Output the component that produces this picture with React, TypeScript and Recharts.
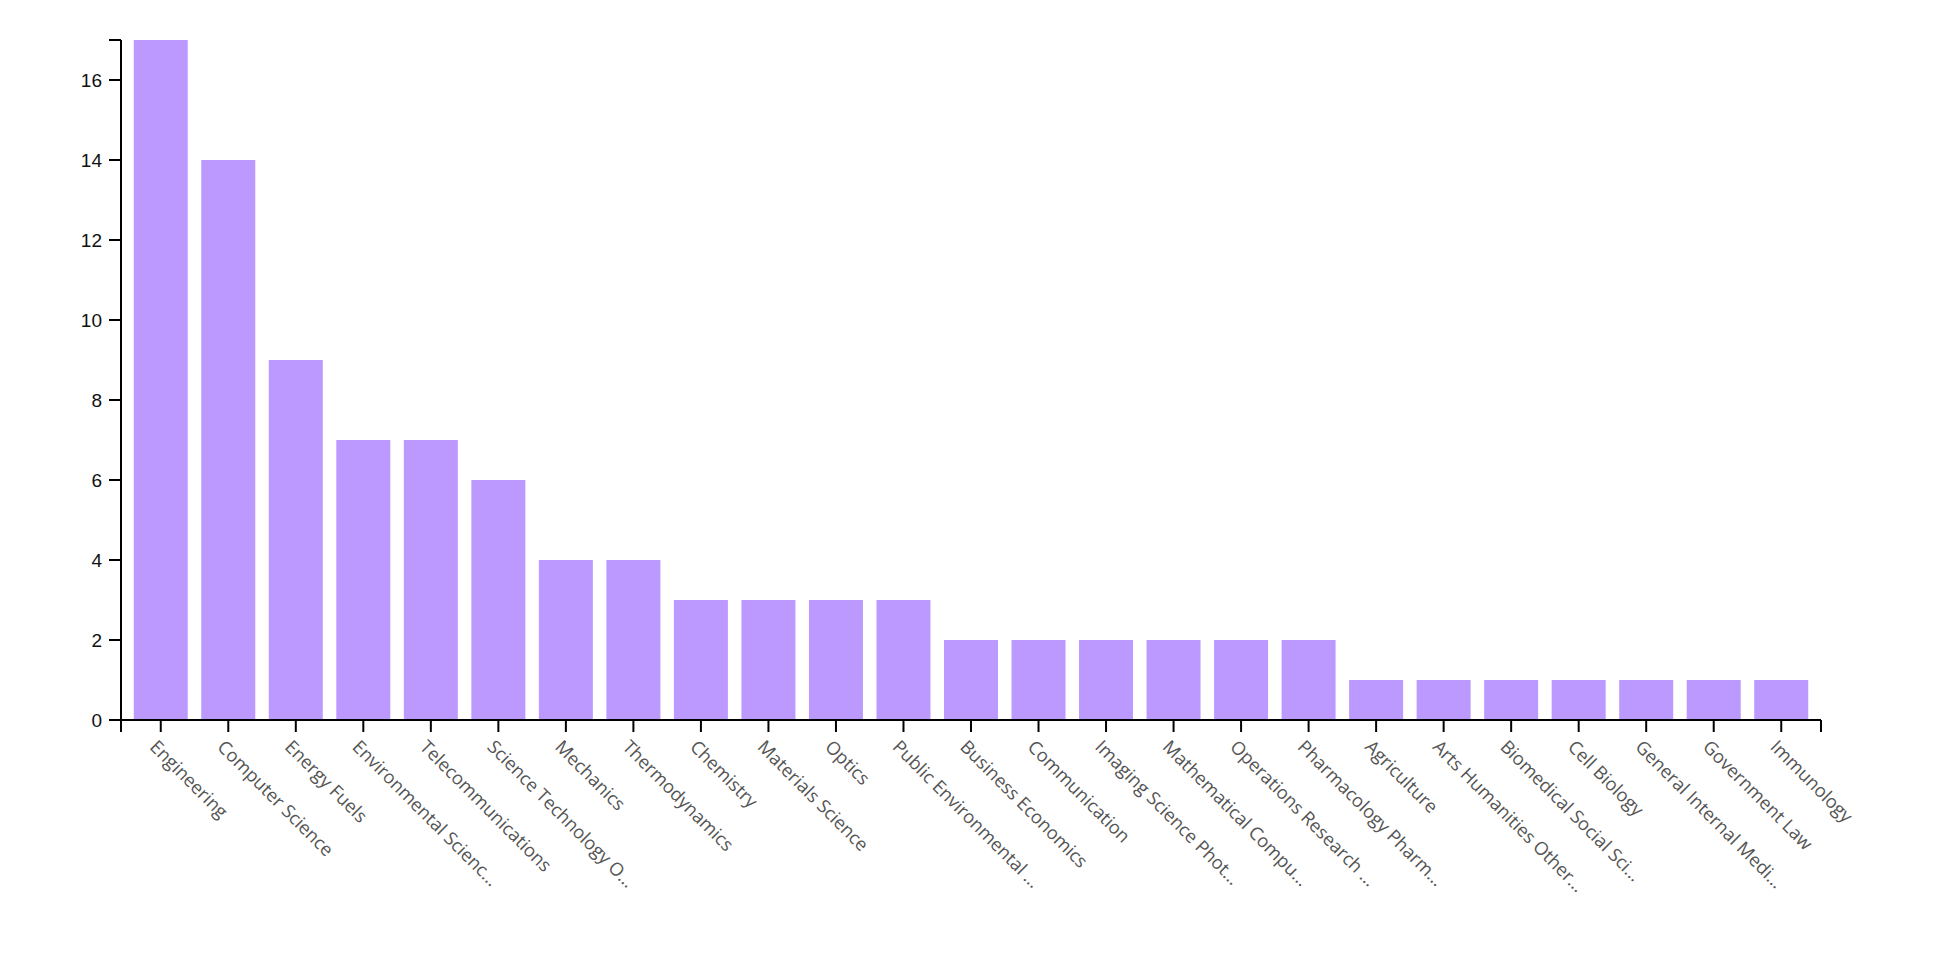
import React from 'react';
import { BarChart, Bar, XAxis, YAxis } from 'recharts';

// subject areas, as the axis shows them (long ones already cut with …)
const categories = [
  'Engineering',
  'Computer Science',
  'Energy Fuels',
  'Environmental Scienc…',
  'Telecommunications',
  'Science Technology O…',
  'Mechanics',
  'Thermodynamics',
  'Chemistry',
  'Materials Science',
  'Optics',
  'Public Environmental …',
  'Business Economics',
  'Communication',
  'Imaging Science Phot…',
  'Mathematical Compu…',
  'Operations Research …',
  'Pharmacology Pharm…',
  'Agriculture',
  'Arts Humanities Other…',
  'Biomedical Social Sci…',
  'Cell Biology',
  'General Internal Medi…',
  'Government Law',
  'Immunology',
];

const counts = [17, 14, 9, 7, 7, 6, 4, 4, 3, 3, 3, 3, 2, 2, 2, 2, 2, 2, 1, 1, 1, 1, 1, 1, 1];

const yMax = 17;
const yTicks = [0, 2, 4, 6, 8, 10, 12, 14, 16, yMax];

const data = categories.map((name, i) => ({ name, value: counts[i] }));

const X_PAD = 6;
const TICK_SIZE = 12;
const TICK_MARGIN = 2;

// slanted category label, hung just left of and below its tick.
// the first one also draws the two outer ticks at the ends of the axis line
const SlantTick = (props: any) => {
  const { x, y, payload, index, width, visibleTicksCount } = props;
  let ends = null;
  if (index === 0 && width && visibleTicksCount) {
    const band = (width - 2 * X_PAD) / visibleTicksCount;
    const start = x - X_PAD - band / 2;
    const top = y - TICK_MARGIN - TICK_SIZE;
    ends = [start, start + width].map((ex) => (
      <line key={ex} x1={ex} x2={ex} y1={top} y2={top + TICK_SIZE} stroke="#000" strokeWidth={2} />
    ));
  }
  return (
    <g>
      {ends}
      <text
        transform={`translate(${x - 12},${y + 14}) rotate(45)`}
        textAnchor="start"
        fill="#555"
        fontSize={18.3}
        fontFamily={'"Open Sans", sans-serif'}
      >
        {payload.value}
      </text>
    </g>
  );
};

const App: React.FC = () => {
  return (
    <BarChart
      width={1944}
      height={940}
      data={data}
      margin={{ top: 32, right: 131, bottom: 0, left: 0 }}
    >
      <XAxis
        dataKey="name"
        height={228}
        interval={0}
        padding={{ left: X_PAD, right: X_PAD }}
        stroke="#000"
        axisLine={{ stroke: '#000', strokeWidth: 2 }}
        tickLine={{ stroke: '#000', strokeWidth: 2 }}
        tickSize={TICK_SIZE}
        tickMargin={TICK_MARGIN}
        tick={<SlantTick />}
      />
      <YAxis
        width={113}
        domain={[0, yMax]}
        ticks={yTicks}
        interval={0}
        stroke="#000"
        axisLine={{ stroke: '#000', strokeWidth: 2 }}
        tickLine={{ stroke: '#000', strokeWidth: 2 }}
        tickSize={TICK_SIZE}
        tickMargin={7}
        tickFormatter={(v: number) => (v === yMax ? '' : String(v))}
        tick={{ fill: '#111', fontSize: 19, fontFamily: '"Liberation Sans", Arial, sans-serif' }}
      />
      <Bar dataKey="value" fill="#bb99ff" isAnimationActive={false} />
    </BarChart>
  );
};

export default App;
